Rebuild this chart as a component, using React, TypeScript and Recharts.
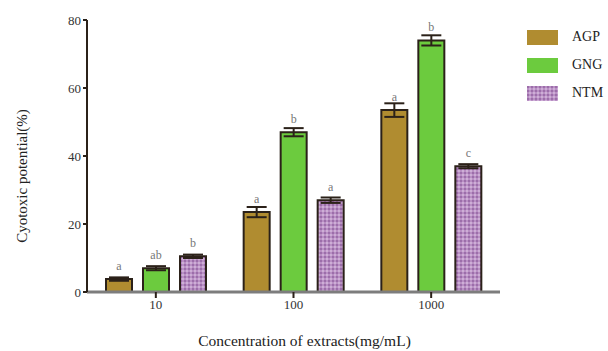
import { BarChart, Bar, XAxis, YAxis, ErrorBar, LabelList } from 'recharts';

const concentrations = ['10', '100', '1000'];
const agpValues = [3.8, 23.5, 53.5];
const gngValues = [7, 47, 74];
const ntmValues = [10.5, 27, 37];
const agpErrors = [0.5, 1.5, 2];
const gngErrors = [0.6, 1.2, 1.5];
const ntmErrors = [0.5, 0.8, 0.6];
const agpLetters = ['a', 'a', 'a'];
const gngLetters = ['ab', 'b', 'b'];
const ntmLetters = ['b', 'a', 'c'];
const yTicks = [0, 20, 40, 60, 80];

const data = concentrations.map((c, i) => ({
  name: c,
  AGP: agpValues[i],
  GNG: gngValues[i],
  NTM: ntmValues[i],
  agpErr: agpErrors[i],
  gngErr: gngErrors[i],
  ntmErr: ntmErrors[i],
  agpSig: agpLetters[i],
  gngSig: gngLetters[i],
  ntmSig: ntmLetters[i],
}));

const FONT = '"Liberation Serif", "DejaVu Serif", serif';
const AGP_COLOR = '#B08C30';
const GNG_COLOR = '#6CCB3E';
const EDGE = '#2b2119';

const legendItems = [
  { name: 'AGP', fill: AGP_COLOR },
  { name: 'GNG', fill: GNG_COLOR },
  { name: 'NTM', fill: 'url(#ntmDots)' },
];

// legend drawn as an overlay so it doesn't eat into the plot area
function LegendBox() {
  return (
    <div style={{ position: 'absolute', left: 527, top: 23, fontFamily: FONT, fontSize: 14, color: '#222' }}>
      {legendItems.map((it) => (
        <div key={it.name} style={{ display: 'flex', alignItems: 'center', height: 28 }}>
          <svg width={31} height={15} style={{ marginRight: 14 }}>
            <rect x={0} y={0} width={31} height={15} fill={it.fill} />
          </svg>
          <span>{it.name}</span>
        </div>
      ))}
    </div>
  );
}

// y title sits a bit lower than the plot's middle in the original
const YTitle = () => (
  <text x={22} y={176} transform="rotate(-90 22 176)" textAnchor="middle" dominantBaseline="central"
    style={{ fontFamily: FONT, fontSize: 15, fill: '#222' }}>
    Cyotoxic potential(%)
  </text>
);

export default function App() {
  const letterStyle = { fontFamily: FONT, fontSize: 12, fill: '#777' };
  return (
    <div style={{ position: 'absolute', left: 0, top: 0, width: 608, height: 351, background: '#fff' }}>
      <BarChart
        width={608}
        height={351}
        data={data}
        margin={{ top: 20, right: 108, bottom: 0, left: 0 }}
        barCategoryGap={19}
        barGap={11}
        barSize={26}
      >
        <defs>
          <pattern id="ntmDots" width="4" height="4" patternUnits="userSpaceOnUse">
            <rect width="4" height="4" fill="#B98FC4" />
            <circle cx="1" cy="1" r="0.9" fill="#8E5E9E" />
            <circle cx="3" cy="3" r="0.9" fill="#D8BEE0" />
          </pattern>
        </defs>
        <XAxis
          dataKey="name"
          height={59}
          axisLine={{ stroke: '#7d7d7d', strokeWidth: 3 }}
          tickLine={{ stroke: EDGE, strokeWidth: 2 }}
          tickSize={6}
          tick={{ fontFamily: FONT, fontSize: 13, fill: '#333' }}
          label={{ value: 'Concentration of extracts(mg/mL)', position: 'insideBottom', offset: 5, dx: 11, style: { fontFamily: FONT, fontSize: 15.5, fill: '#222' } }}
        />
        <YAxis
          width={87}
          domain={[0, 80]}
          ticks={yTicks}
          axisLine={{ stroke: EDGE, strokeWidth: 2 }}
          tickLine={{ stroke: EDGE, strokeWidth: 2 }}
          tickSize={4}
          tick={{ fontFamily: FONT, fontSize: 13, fill: '#333' }}
          label={{ value: 'Cyotoxic potential(%)', content: () => <YTitle /> }}
        />
        <Bar dataKey="AGP" fill={AGP_COLOR} stroke={EDGE} strokeWidth={2} isAnimationActive={false}>
          <ErrorBar dataKey="agpErr" width={10} stroke={EDGE} strokeWidth={2} direction="y" />
          <LabelList dataKey="agpSig" position="top" offset={9} style={letterStyle} />
        </Bar>
        <Bar dataKey="GNG" fill={GNG_COLOR} stroke={EDGE} strokeWidth={2} isAnimationActive={false}>
          <ErrorBar dataKey="gngErr" width={10} stroke={EDGE} strokeWidth={2} direction="y" />
          <LabelList dataKey="gngSig" position="top" offset={9} style={letterStyle} />
        </Bar>
        <Bar dataKey="NTM" fill="url(#ntmDots)" stroke={EDGE} strokeWidth={2} isAnimationActive={false}>
          <ErrorBar dataKey="ntmErr" width={10} stroke={EDGE} strokeWidth={2} direction="y" />
          <LabelList dataKey="ntmSig" position="top" offset={9} style={letterStyle} />
        </Bar>
      </BarChart>
      <LegendBox />
    </div>
  );
}
